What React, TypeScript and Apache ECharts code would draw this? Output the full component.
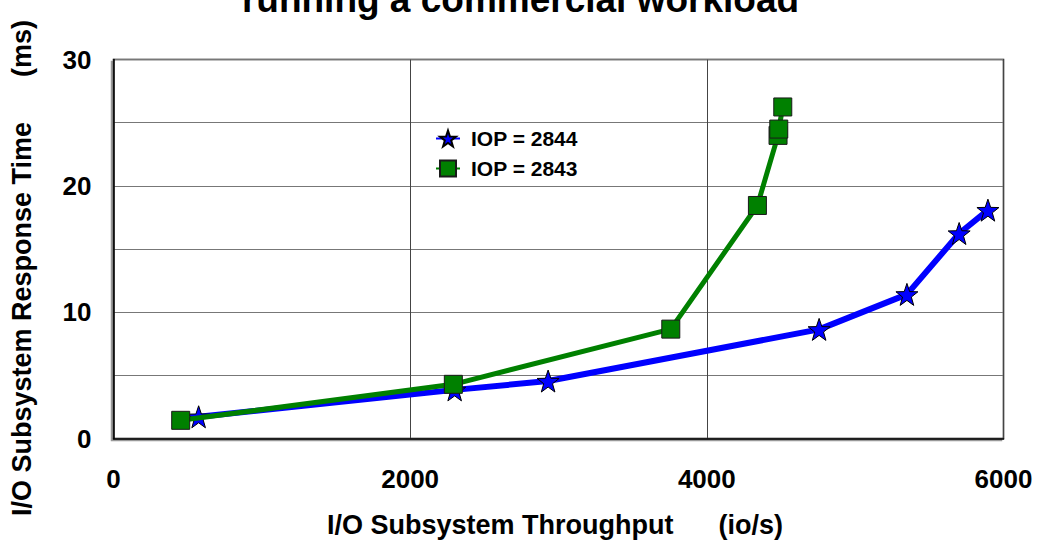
import React, { useEffect, useRef } from "react";
import * as echarts from "echarts";

const titleText = "running a commercial workload";
const xAxisTitle = "I/O Subsystem Throughput      (io/s)";
const yAxisTitle = "I/O Subsystem Response Time      (ms)";

const seriesNames = ["IOP = 2844", "IOP = 2843"];
const iop2844X = [574, 2300, 2930, 4757, 5349, 5701, 5895];
const iop2844Y = [1.72, 3.85, 4.55, 8.64, 11.41, 16.23, 18.08];
const iop2843X = [453, 2291, 3757, 4341, 4480, 4485, 4512];
const iop2843Y = [1.44, 4.29, 8.66, 18.45, 24.0, 24.5, 26.25];

const starPath =
  "path://M0,-10 L2.35,-3.24 L9.51,-3.09 L3.8,1.24 L5.88,8.09 L0,4 L-5.88,8.09 L-3.8,1.24 L-9.51,-3.09 L-2.35,-3.24 Z";

const FONT = "'Liberation Sans', Arial, sans-serif";

export default function App() {
  const ref = useRef<HTMLDivElement>(null);
  useEffect(() => {
    document.body.style.margin = "0";
    const chart = echarts.init(ref.current!, null, { renderer: "svg" });
    const pts = (xs: number[], ys: number[]) => xs.map((x, i) => [x, ys[i]]);
    chart.setOption({
      animation: false,
      backgroundColor: "#ffffff",
      textStyle: { fontFamily: FONT },
      grid: {
        left: 113.5,
        right: 37.5,
        top: 59.6,
        bottom: 107.5,
        show: true,
        borderColor: "#000",
        borderWidth: 1.5,
        backgroundColor: "#fff",
        shadowColor: "#999",
        shadowOffsetX: -2,
        shadowOffsetY: 2,
        shadowBlur: 0,
      },
      legend: {
        left: 430,
        top: 123,
        orient: "vertical",
        itemGap: 9,
        itemWidth: 24,
        itemHeight: 20,
        textStyle: {
          fontFamily: FONT,
          fontWeight: "bold",
          fontSize: 21,
          color: "#000",
          padding: [0, 0, 0, 6],
        },
        data: seriesNames,
      },
      xAxis: {
        type: "value",
        min: 0,
        max: 6000,
        interval: 2000,
        axisLine: { show: true, lineStyle: { color: "#000", width: 1.5 } },
        axisTick: { show: false },
        axisLabel: {
          margin: 27,
          fontFamily: FONT,
          fontWeight: "bold",
          fontSize: 26,
          color: "#000",
          formatter: (v: number) => String(v),
        },
        splitLine: { show: true, lineStyle: { color: "#444", width: 1 } },
      },
      yAxis: {
        type: "value",
        min: 0,
        max: 30,
        interval: 5,
        axisLine: { show: true, lineStyle: { color: "#000", width: 1.5 } },
        axisTick: { show: false },
        axisLabel: {
          margin: 22,
          fontFamily: FONT,
          fontWeight: "bold",
          fontSize: 26,
          color: "#000",
          formatter: (v: number) => (v % 10 === 0 ? String(v) : ""),
        },
        splitLine: { show: true, lineStyle: { color: "#777", width: 1.2 } },
      },
      graphic: [
        {
          type: "text",
          left: "center",
          top: -19,
          style: {
            text: titleText,
            font: `bold 37px ${FONT}`,
            fill: "#000",
          },
        },
        {
          type: "text",
          x: 555,
          y: 525,
          style: {
            text: xAxisTitle,
            font: `bold 27px ${FONT}`,
            fill: "#000",
            textAlign: "center",
            textVerticalAlign: "middle",
          },
        },
        {
          type: "text",
          x: 22,
          y: 268,
          rotation: Math.PI / 2,
          style: {
            text: yAxisTitle,
            font: `bold 27px ${FONT}`,
            fill: "#000",
            textAlign: "center",
            textVerticalAlign: "middle",
          },
        },
      ],
      series: [
        {
          name: seriesNames[0],
          type: "line",
          data: pts(iop2844X, iop2844Y),
          symbol: starPath,
          symbolSize: 22,
          lineStyle: { color: "#0000ff", width: 6 },
          itemStyle: { color: "#0000ff", borderColor: "#000", borderWidth: 1 },
          z: 2,
        },
        {
          name: seriesNames[1],
          type: "line",
          data: pts(iop2843X, iop2843Y),
          symbol: "rect",
          symbolSize: 18,
          lineStyle: { color: "#008000", width: 5 },
          itemStyle: { color: "#008000", borderColor: "#1a1a1a", borderWidth: 1 },
          z: 3,
        },
      ],
    });
    return () => chart.dispose();
  }, []);
  return <div ref={ref} style={{ width: 1041, height: 546 }} />;
}
